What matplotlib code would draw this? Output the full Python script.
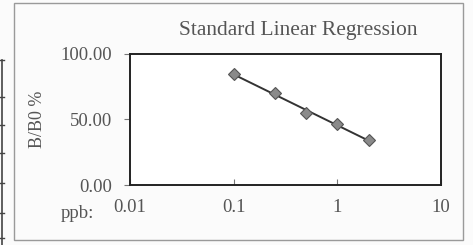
import numpy as np
import matplotlib.pyplot as plt
from matplotlib.patches import Rectangle
from matplotlib.lines import Line2D

# ---------------------------------------------------------------
# data
# ---------------------------------------------------------------
conc_ppb = np.array([0.1, 0.25, 0.5, 1.0, 2.0])
bb0_pct = np.array([84.7, 70.0, 54.7, 46.3, 34.4])

x_ticks = [0.01, 0.1, 1, 10]
x_ticklabels = ["0.01", "0.1", "1", "10"]
y_ticks = [0, 50, 100]
y_ticklabels = ["0.00", "50.00", "100.00"]

# regression line  y = a + b*log10(x)
b, a = np.polyfit(np.log10(conc_ppb), bb0_pct, 1)
x_fit = np.array([conc_ppb.min(), conc_ppb.max()])
y_fit = a + b * np.log10(x_fit)

plt.rcParams['font.family'] = ['Liberation Serif', 'DejaVu Serif']

W, H = 473, 245
fig = plt.figure(figsize=(W / 100, H / 100), dpi=100)
fig.patch.set_facecolor('#fbfbfb')

ax = fig.add_axes([130 / W, 1 - 185 / H, 311 / W, 131 / H])
ax.set_facecolor('white')

ax.plot(x_fit, y_fit, color='#333333', linewidth=1.4, zorder=2)
ax.plot(conc_ppb, bb0_pct, linestyle='none', marker='D', markersize=6,
        markerfacecolor='#8a8a8a', markeredgecolor='#555555', markeredgewidth=0.8, zorder=3)

ax.set_xscale('log')
ax.set_xlim(0.01, 10)
ax.set_ylim(0, 100)
ax.set_xticks(x_ticks)
ax.set_xticklabels(x_ticklabels)
ax.set_yticks(y_ticks)
ax.set_yticklabels(y_ticklabels)
ax.minorticks_off()
ax.tick_params(axis='x', direction='in', length=4, width=0.8, pad=10,
               labelsize=13.5, labelcolor='#555555', color='#777777')
ax.tick_params(axis='y', direction='out', length=4, width=0.8, pad=9,
               labelsize=13.5, labelcolor='#555555', color='#777777')
for sp in ax.spines.values():
    sp.set_linewidth(1.4)
    sp.set_color('#222222')

ax.set_ylabel("B/B0 %", fontsize=13, color='#555555', labelpad=10)

fig.text(298 / W, 1 - 30 / H, "Standard Linear Regression", fontsize=15.5,
         color='#555555', ha='center', va='center')
fig.text(77 / W, 1 - 213 / H, "ppb:", fontsize=13.5, color='#555555',
         ha='center', va='center')

# outer chart frame
fig.add_artist(Rectangle((14 / W, 1 - 240 / H), 449 / W, 237 / H,
                         transform=fig.transFigure, fill=False,
                         edgecolor='#9a9a9a', linewidth=1.0))

# fragment of a table at the left edge of the scan
fig.add_artist(Line2D([1.5 / W, 1.5 / W], [1 - 60 / H, 0], transform=fig.transFigure,
                      color='#444444', linewidth=1.2))
for yy in [60, 97, 125, 153, 183, 213, 238]:
    fig.add_artist(Line2D([0, 4 / W], [1 - yy / H, 1 - yy / H], transform=fig.transFigure,
                          color='#444444', linewidth=1.0))

fig.savefig("out.png", dpi=100, facecolor=fig.get_facecolor())
